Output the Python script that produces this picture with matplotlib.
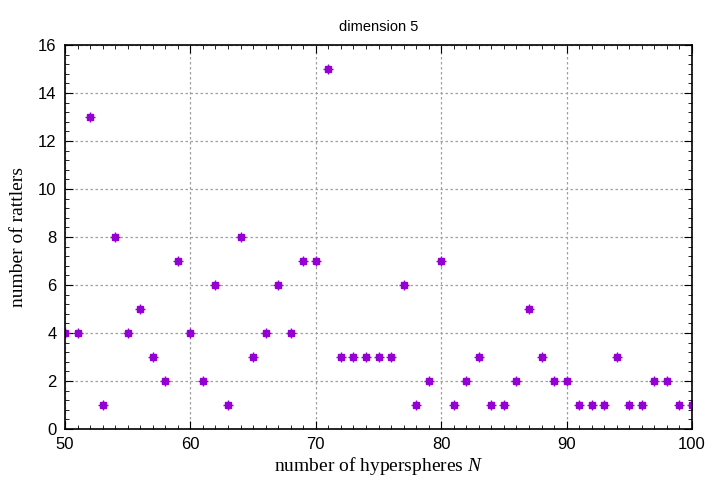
import matplotlib
matplotlib.use("Agg")
import matplotlib.pyplot as plt
from matplotlib.ticker import MultipleLocator

# number of hyperspheres and rattlers, dimension 5
N = list(range(50, 101))
rattlers = [4, 4, 13, 1, 8, 4, 5, 3, 2, 7,
            4, 2, 6, 1, 8, 3, 4, 6, 4, 7,
            7, 15, 3, 3, 3, 3, 3, 6, 1, 2,
            7, 1, 2, 3, 1, 1, 2, 5, 3, 2,
            2, 1, 1, 1, 3, 1, 1, 2, 2, 1,
            1]

plt.rcParams['font.family'] = ['Liberation Sans', 'DejaVu Sans']
plt.rcParams['mathtext.fontset'] = 'custom'
plt.rcParams['mathtext.it'] = 'Liberation Serif:italic'
plt.rcParams['mathtext.rm'] = 'Liberation Serif'

fig = plt.figure(figsize=(7.2, 4.8), dpi=100)
ax = fig.add_axes([65/720, 1-429/480, (692-65)/720, (429-45)/480])

col = '#9400d3'
ax.plot(N, rattlers, linestyle='none', marker='s', ms=4.2, color=col, mec=col)
ax.plot(N, rattlers, linestyle='none', marker='+', ms=7, mew=1, color=col)

ax.set_xlim(50, 100)
ax.set_ylim(0, 16)
ax.xaxis.set_major_locator(MultipleLocator(10))
ax.xaxis.set_minor_locator(MultipleLocator(1))
ax.yaxis.set_major_locator(MultipleLocator(2))
ax.yaxis.set_minor_locator(MultipleLocator(0.4))
ax.tick_params(which='both', direction='in', top=True, right=True, color='black')
ax.tick_params(which='major', length=6, labelsize=12, pad=6)
ax.tick_params(which='minor', length=3)
ax.grid(True, which='major', linestyle=(0, (2, 2)), color='#a0a0a0', linewidth=0.9)
for s in ax.spines.values():
    s.set_linewidth(1.2)

ax.set_xlabel('number of hyperspheres $N$', family=['Liberation Serif'], fontsize=14, labelpad=2)
ax.set_ylabel('number of rattlers', family=['Liberation Serif'], fontsize=14, labelpad=8)
ax.set_title('dimension 5', fontsize=10.5, pad=10)

fig.savefig('out.png', dpi=100)
